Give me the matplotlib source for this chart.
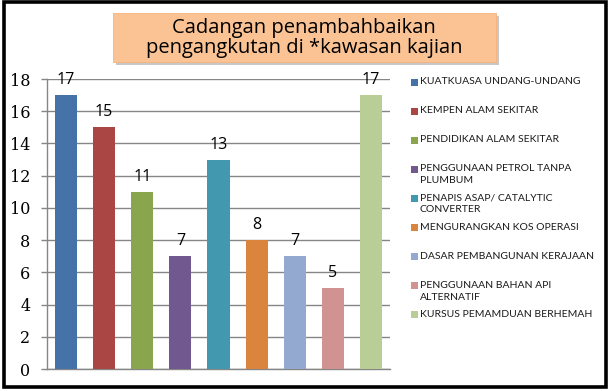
import matplotlib
matplotlib.use('Agg')
import matplotlib.pyplot as plt
from matplotlib.patches import Rectangle

categories = ['KUATKUASA UNDANG-UNDANG', 'KEMPEN ALAM SEKITAR', 'PENDIDIKAN ALAM SEKITAR',
              'PENGGUNAAN PETROL TANPA\nPLUMBUM', 'PENAPIS ASAP/ CATALYTIC\nCONVERTER',
              'MENGURANGKAN KOS OPERASI', 'DASAR PEMBANGUNAN KERAJAAN',
              'PENGGUNAAN BAHAN API\nALTERNATIF', 'KURSUS PEMAMDUAN BERHEMAH']
values = [17, 15, 11, 7, 13, 8, 7, 5, 17]
colors = ['#4572A7', '#AA4643', '#89A54E', '#71588F', '#4198AF',
          '#DB843D', '#93A9CF', '#D19392', '#B9CD96']
yticks = [0, 2, 4, 6, 8, 10, 12, 14, 16, 18]
title = 'Cadangan penambahbaikan\npengangkutan di *kawasan kajian'

W, H = 609, 391
fig = plt.figure(figsize=(W / 100, H / 100), dpi=100)
fig.patch.set_facecolor('white')

ax = fig.add_axes([47 / W, 1 - 369 / H, (390 - 47) / W, (369 - 79) / H])
x = range(len(values))
ax.bar(x, values, width=0.58, color=colors, zorder=3)
for i, v in enumerate(values):
    ax.text(i, v + 0.68, str(v), ha='center', va='baseline', fontsize=11.5,
            family='Open Sans', color='black', zorder=4)

ax.set_xlim(-0.5, len(values) - 0.5)
ax.set_ylim(0, 18)
ax.set_yticks(yticks)
ax.set_yticklabels([str(t) for t in yticks], family='DejaVu Serif', fontsize=11.5)
ax.set_xticks([])
ax.tick_params(axis='y', length=4, width=1, color='#868686', pad=8)
ax.grid(axis='y', color='#868686', linewidth=1, zorder=0)
ax.set_axisbelow(True)
for side in ['top', 'right']:
    ax.spines[side].set_visible(False)
for side in ['left', 'bottom']:
    ax.spines[side].set_color('#868686')
    ax.spines[side].set_linewidth(1)

# legend, evenly spaced like the original
for i, (lab, c) in enumerate(zip(categories, colors)):
    yc = 82 + i * 29.1
    fig.patches.append(Rectangle((411 / W, 1 - (yc + 3.5) / H), 7 / W, 7 / H,
                                 transform=fig.transFigure, facecolor=c, edgecolor='none'))
    fig.text(420 / W, 1 - (yc - 5) / H, lab, ha='left', va='top', fontsize=7.5,
             family='Lato', color='#1a1a1a', linespacing=1.4)

# title box with shadow
fig.patches.append(Rectangle((116 / W, 1 - 65 / H), (496 - 113) / W, (62 - 13) / H,
                             transform=fig.transFigure, facecolor='#c8c8c8', edgecolor='none'))
fig.patches.append(Rectangle((113 / W, 1 - 62 / H), (496 - 113) / W, (62 - 13) / H,
                             transform=fig.transFigure, facecolor='#FBC393', edgecolor='#F5B47C',
                             linewidth=0.6))
fig.text(304 / W, 1 - 38 / H, title, ha='center', va='center', fontsize=14.5,
         family='Open Sans', color='black', linespacing=1.05)

# outer black frame
fig.patches.append(Rectangle((3.5 / W, 4 / H), (605.5 - 3.5) / W, (389 - 4) / H,
                             transform=fig.transFigure, facecolor='none', edgecolor='black',
                             linewidth=2.6))

fig.savefig('out.png', dpi=100)
